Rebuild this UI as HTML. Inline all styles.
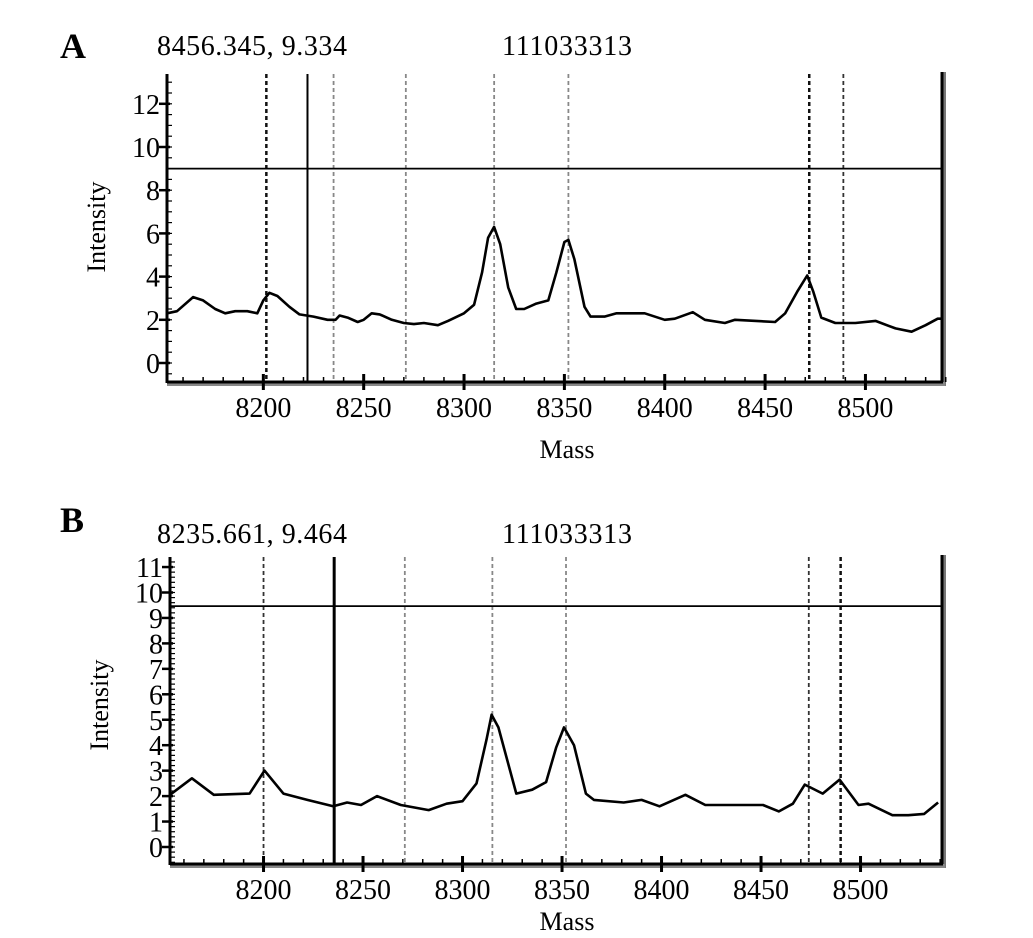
<!DOCTYPE html>
<html><head><meta charset="utf-8"><style>
html,body{margin:0;padding:0;background:#fff;}
svg{display:block;font-family:"Liberation Serif",serif;}
</style></head><body>
<svg id="s" width="1033" height="938" viewBox="0 0 1033 938">
<text x="60" y="58" font-size="36" font-weight="bold">A</text>
<text x="157" y="55" font-size="28" textLength="190">8456.345, 9.334</text>
<text x="502" y="55" font-size="28" textLength="130">111033313</text>
<text x="60" y="532" font-size="36" font-weight="bold">B</text>
<text x="157" y="543" font-size="28" textLength="190">8235.661, 9.464</text>
<text x="502" y="543" font-size="28" textLength="130">111033313</text>
</svg>
<script>
const massA=[8152,8157,8165,8170,8176,8181,8186,8192,8197,8200,8203,8207,8213,8218,8225,8232,8236,8238,8242,8247,8250,8254,8258,8264,8270,8275,8280,8287,8292,8300,8305,8309,8312,8315,8318,8322,8326,8330,8336,8342,8346,8350,8352,8355,8360,8363,8370,8376,8390,8400,8405,8414,8420,8430,8435,8455,8460,8466,8471,8474,8478,8485,8495,8505,8515,8523,8530,8536,8539];
const intA=[2.3,2.4,3.05,2.9,2.5,2.3,2.4,2.4,2.3,2.9,3.25,3.1,2.6,2.25,2.15,2.0,2.0,2.2,2.1,1.9,2.0,2.3,2.25,2.0,1.85,1.8,1.85,1.75,1.95,2.3,2.7,4.2,5.8,6.3,5.5,3.5,2.5,2.5,2.75,2.9,4.2,5.6,5.7,4.8,2.6,2.15,2.15,2.3,2.3,2.0,2.05,2.35,2.0,1.85,2.0,1.9,2.3,3.3,4.05,3.3,2.1,1.85,1.85,1.95,1.6,1.45,1.75,2.05,2.05];
const massB=[8153,8164,8175,8193,8200.5,8210,8222,8235,8242,8249,8257,8269,8283,8292,8300,8307,8312,8314.6,8318,8327,8335,8342,8347,8351,8356,8362,8366,8381,8390,8399,8412,8422,8451,8459,8466,8472,8481,8489.5,8499,8504,8516,8524,8532,8539];
const intB=[2.05,2.7,2.05,2.1,3.0,2.1,1.85,1.6,1.75,1.65,2.0,1.65,1.45,1.7,1.8,2.5,4.2,5.2,4.7,2.1,2.25,2.55,3.9,4.7,4.0,2.1,1.85,1.75,1.85,1.6,2.05,1.65,1.65,1.4,1.7,2.45,2.1,2.65,1.65,1.7,1.25,1.25,1.3,1.75];
const xTicks=[8200,8250,8300,8350,8400,8450,8500];
const yTicksA=[0,2,4,6,8,10,12];
const yTicksB=[0,1,2,3,4,5,6,7,8,9,10,11];
const markersA=[8201.5,8235,8271,8315,8352,8472,8489];
const markersAstyle=['dark','light','light','light','light','dark','mid'];
const cursorA=[8222,9.0];
const markersB=[8200,8271,8315,8352,8474,8490];
const markersBstyle=['mid','light','light','light','mid','dark'];
const cursorB=[8235.5,9.464];

const NS='http://www.w3.org/2000/svg';
const svg=document.getElementById('s');
function mk(t,a,p){const e=document.createElementNS(NS,t);for(const k in a)e.setAttribute(k,a[k]);(p||svg).appendChild(e);return e;}

function panel(cfg){
  const g=mk('g',{});
  
  
  const X=m=>cfg.x0+(m-cfg.m0)*cfg.sx;
  const Y=v=>cfg.y0-v*cfg.sy;
  cfg.markers.forEach((m,i)=>{
    const st=cfg.mstyle[i];
    const l=mk('line',{x1:X(m),x2:X(m),y1:cfg.top,y2:cfg.bottom,stroke:st==='dark'?'#111':st==='mid'?'#333':'#888','stroke-width':st==='dark'?2.5:1.8,'stroke-dasharray':'4 3'},g);
    
    
  });
  const h=mk('line',{x1:cfg.x0,x2:cfg.right,y1:Y(cfg.cursor[1]),y2:Y(cfg.cursor[1]),stroke:'#000','stroke-width':1.8},g);
  
  
  const v=mk('line',{x1:X(cfg.cursor[0]),x2:X(cfg.cursor[0]),y1:cfg.top,y2:cfg.bottom,stroke:'#000','stroke-width':cfg.cw},g);
  
  
  let d='';
  cfg.mass.forEach((m,i)=>{d+=(i?'L':'M')+X(m).toFixed(1)+','+Y(cfg.int[i]).toFixed(1);});
  const p=mk('path',{d:d,fill:'none',stroke:'#000','stroke-width':2.6,'stroke-linejoin':'round'},g);
  
  
  mk('rect',{x:cfg.right-1,y:cfg.top-2,width:5,height:cfg.bottom-cfg.top+6,fill:'#777'},g);
  mk('line',{x1:cfg.right,x2:cfg.right,y1:cfg.top-2,y2:cfg.bottom+2,stroke:'#000','stroke-width':3},g);
  mk('rect',{x:cfg.x0,y:cfg.bottom,width:cfg.right-cfg.x0+3,height:4,fill:'#888'},g);
  const xa=mk('line',{x1:cfg.x0,x2:cfg.right+1,y1:cfg.bottom,y2:cfg.bottom,stroke:'#000','stroke-width':3},g);
  
  
  const ya=mk('line',{x1:cfg.x0,x2:cfg.x0,y1:cfg.top,y2:cfg.bottom+1,stroke:'#000','stroke-width':3},g);
  
  
  for(let m=8160;m<=8540;m+=10){
    mk('line',{x1:X(m),x2:X(m),y1:cfg.bottom-5,y2:cfg.bottom,stroke:'#000','stroke-width':1.5},g);
  }
  xTicks.forEach(t=>{
    mk('line',{x1:X(t),x2:X(t),y1:cfg.bottom-8,y2:cfg.bottom+8,stroke:'#000','stroke-width':3},g);
    const tx=mk('text',{x:X(t),y:cfg.bottom+cfg.xlo,'font-size':28,'text-anchor':'middle'},g);
    tx.textContent=t;
    
    
  });
  const ymax=(cfg.y0-cfg.top)/cfg.sy;
  for(let val=-cfg.minor*Math.floor(((cfg.bottom-cfg.y0)/cfg.sy)/cfg.minor);val<=ymax;val+=cfg.minor){
    mk('line',{x1:cfg.x0,x2:cfg.x0+5,y1:Y(val),y2:Y(val),stroke:'#000','stroke-width':1.2},g);
  }
  cfg.yTicks.forEach(t=>{
    mk('line',{x1:cfg.x0-8,x2:cfg.x0+3,y1:Y(t),y2:Y(t),stroke:'#000','stroke-width':2.5},g);
    const tx=mk('text',{x:cfg.x0-7,y:Y(t)+cfg.yoff,'font-size':cfg.yfs,'text-anchor':'end'},g);
    tx.textContent=t;
    
    
  });
  const yt=mk('text',{x:0,y:0,'font-size':26,'text-anchor':'middle',transform:'translate('+(cfg.x0-62)+','+cfg.ycenter+') rotate(-90)'},g);
  yt.textContent='Intensity';
  
  
  const xt=mk('text',{x:567,y:cfg.bottom+cfg.mlo,'font-size':26,'text-anchor':'middle'},g);
  xt.textContent='Mass';
  
  
}
panel({name:'panel-a-spectrum',x0:167,m0:8152,sx:2.007,y0:363,sy:21.6,top:74,bottom:382,right:942,
  mass:massA,int:intA,markers:markersA,mstyle:markersAstyle,cursor:cursorA,cw:2,yTicks:yTicksA,minor:0.5,yfs:28,yoff:10,ycenter:227,xlo:35,mlo:76});
panel({name:'panel-b-spectrum',x0:170,m0:8153,sx:1.99,y0:847,sy:25.45,top:557,bottom:864,right:942,
  mass:massB,int:intB,markers:markersB,mstyle:markersBstyle,cursor:cursorB,cw:3,yTicks:yTicksB,minor:0.2,yfs:28,yoff:10,ycenter:705,xlo:35,mlo:66});
</script>
</body></html>
